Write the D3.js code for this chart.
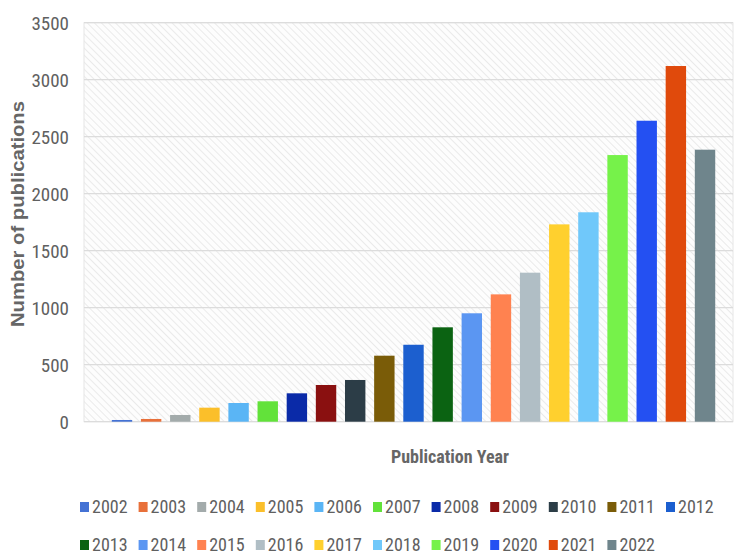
<!DOCTYPE html>
<html><head><meta charset="utf-8">
<script src="https://cdn.jsdelivr.net/npm/d3@7"></script>
<style>body{margin:0;background:#fff}svg{display:block}</style>
</head><body>
<script>
const years = ["2002","2003","2004","2005","2006","2007","2008","2009","2010","2011","2012","2013","2014","2015","2016","2017","2018","2019","2020","2021","2022"];
const publications = [15,24,59,123,164,179,249,322,366,579,675,828,951,1117,1307,1731,1837,2339,2640,3120,2386];
const colors = ["#4472d4","#e8703a","#a3abab","#fbbf2a","#5ab5f5","#62e23a","#0a2aa8","#8a1010","#2c3d47","#7a5c08","#1c5fcf","#0b6312","#5b96f2","#ff8250","#b0bec5","#ffd02e","#70c8fa","#76f24a","#2450f2","#e04a0c","#6f858c"];
const yTicks = [0,500,1000,1500,2000,2500,3000,3500];

const W = 735, H = 557;
const svg = d3.select("body").append("svg").attr("width", W).attr("height", H);
const narrow = "'Liberation Sans Narrow', 'Arial Narrow', 'Roboto Condensed', sans-serif";
const textCol = "#606060";

const plotL = 84, plotR = 733;
const y = d3.scaleLinear().domain([0, 3500]).range([421.7, 22.7]);
const x = d3.scaleBand().domain(years).range([107.4, 719.6]).paddingInner(0.3).paddingOuter(0.15);

// hatch pattern
const defs = svg.append("defs");
const pat = defs.append("pattern").attr("id","hatch").attr("patternUnits","userSpaceOnUse")
  .attr("width",5).attr("height",5).attr("patternTransform","rotate(-45)");
pat.append("rect").attr("width",5).attr("height",5).attr("fill","#fdfdfd");
pat.append("line").attr("x1",0).attr("y1",0).attr("x2",0).attr("y2",5)
  .attr("stroke","#e2e2e2").attr("stroke-width",1.4);

svg.append("rect").attr("x",plotL).attr("y",y(3500)).attr("width",plotR-plotL).attr("height",y(0)-y(3500))
  .attr("fill","url(#hatch)").attr("stroke","#e6e6e6").attr("stroke-width",1);

// gridlines
svg.append("g").selectAll("line").data(yTicks).join("line")
  .attr("x1",plotL).attr("x2",plotR).attr("y1",d=>y(d)).attr("y2",d=>y(d))
  .attr("stroke","#dcdcdc").attr("stroke-width",1.3);

// y axis labels
const yAxis = d3.axisLeft(y).tickValues(yTicks).tickFormat(d3.format("d")).tickSize(0).tickPadding(0);
const ga = svg.append("g").attr("transform","translate(69,0)").call(yAxis);
ga.select(".domain").remove();
ga.selectAll("text").attr("font-family",narrow).attr("font-size",19).attr("fill",textCol).attr("dy","0.36em");

// bars
svg.append("g").selectAll("rect").data(years).join("rect")
  .attr("x",d=>x(d)).attr("width",x.bandwidth())
  .attr("y",(d,i)=>y(publications[i])).attr("height",(d,i)=>y(0)-y(publications[i]))
  .attr("fill",(d,i)=>colors[i]);

// axis titles
svg.append("text").attr("transform","translate(24,214) rotate(-90)").attr("text-anchor","middle")
  .attr("font-family","'Liberation Sans', Arial, sans-serif").attr("font-weight","bold").attr("font-size",19)
  .attr("fill","#666").attr("textLength",226).attr("lengthAdjust","spacingAndGlyphs")
  .text("Number of publications");
svg.append("text").attr("x",450).attr("y",463).attr("text-anchor","middle")
  .attr("font-family",narrow).attr("font-weight","bold").attr("font-size",18).attr("fill","#666")
  .text("Publication Year");

// legend
const legend = svg.append("g");
years.forEach((yr,i)=>{
  const row = i < 11 ? 0 : 1;
  const col = row === 0 ? i : i - 11;
  const lx = 80 + col * 58.6;
  const ly = row === 0 ? 507 : 545;
  const g = legend.append("g").attr("transform",`translate(${lx},${ly})`);
  g.append("rect").attr("x",0).attr("y",-5).attr("width",9).attr("height",10).attr("fill",colors[i]);
  g.append("text").attr("x",12).attr("y",0).attr("dy","0.36em").attr("font-family",narrow)
    .attr("font-size",18).attr("fill",textCol).text(yr);
});
</script>
</body></html>
